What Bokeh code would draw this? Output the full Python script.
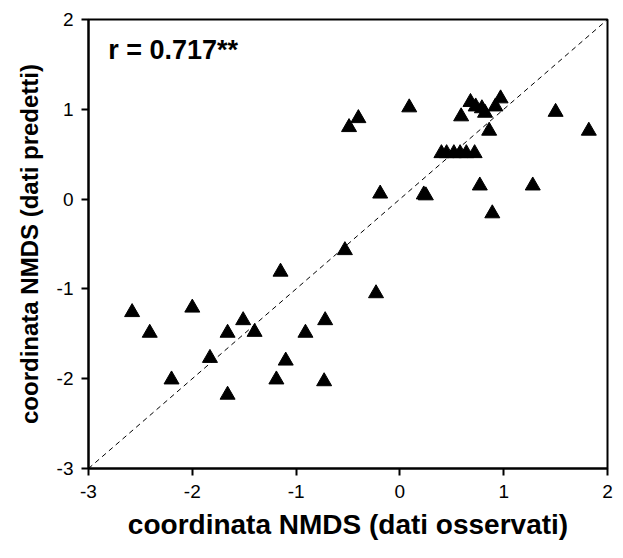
from bokeh.plotting import figure
from bokeh.models import ColumnDataSource, FixedTicker, Range1d, Title
from bokeh.core.properties import value
from bokeh.embed import file_html
from bokeh.resources import INLINE

obs = [-2.58, -2.41, -2.20, -2.00, -1.83, -1.66, -1.66, -1.51, -1.40, -1.15,
       -1.19, -1.10, -0.91, -0.72, -0.73, -0.53, -0.49, -0.40, -0.23, -0.19,
       0.09, 0.23, 0.25, 0.40, 0.45, 0.52, 0.58, 0.64, 0.72,
       0.59, 0.68, 0.73, 0.79, 0.82, 0.92, 0.97, 0.86, 0.77, 0.89, 1.28, 1.50, 1.82]
pred = [-1.26, -1.49, -2.01, -1.21, -1.77, -1.49, -2.18, -1.35, -1.48, -0.81,
        -2.01, -1.80, -1.49, -1.35, -2.03, -0.57, 0.80, 0.90, -1.05, 0.06,
        1.02, 0.05, 0.04, 0.51, 0.51, 0.51, 0.51, 0.51, 0.51,
        0.92, 1.08, 1.03, 1.01, 0.96, 1.03, 1.12, 0.76, 0.15, -0.16, 0.15, 0.97, 0.76]
ticks = [-3, -2, -1, 0, 1, 2]
tick_labels = ["-3", "-2", "-1", "0", "1", "2"]
diag = [-3, 2]
label = "r = 0.717**"
x_title = "coordinata NMDS (dati osservati)"
y_title = "coordinata NMDS (dati predetti)"

FONT = "Liberation Sans"

p = figure(width=615, height=550, output_backend="svg", toolbar_location=None,
           x_range=Range1d(-3, 2), y_range=Range1d(-3, 2),
           min_border_left=88, min_border_right=8, min_border_top=19, min_border_bottom=82)
p.background_fill_color = "white"
p.border_fill_color = "white"
p.outline_line_color = "black"
p.outline_line_width = 2
p.grid.visible = False

p.line(diag, diag, line_color="black", line_width=1, line_dash="5 4")
src = ColumnDataSource(dict(x=obs, y=pred))
p.scatter("x", "y", source=src, marker="triangle", size=15, fill_color="black", line_color="black")

p.text(x=[-2.81], y=[1.66], text=[label], text_font=value(FONT), text_font_style="bold",
       text_font_size="27px", text_baseline="middle", text_align="left", text_color="black")

for ax in (p.xaxis[0], p.yaxis[0]):
    ax.ticker = FixedTicker(ticks=ticks)
    ax.major_label_overrides = {t: s for t, s in zip(ticks, tick_labels)}
    ax.minor_tick_line_color = None
    ax.major_tick_in = 0
    ax.major_tick_out = 7
    ax.major_tick_line_width = 2
    ax.axis_line_width = 2
    ax.major_label_text_font = FONT
    ax.major_label_text_font_size = "19px"
    ax.major_label_text_color = "black"
    ax.axis_label_text_font = FONT
    ax.axis_label_text_font_style = "bold"
    ax.axis_label_text_color = "black"

p.add_layout(Title(text=x_title, align="center", offset=28, standoff=12,
                   text_font=FONT, text_font_style="bold", text_font_size="28px",
                   text_color="black"), "below")
p.yaxis.axis_label = y_title
p.yaxis.axis_label_text_font_size = "24px"
p.xaxis.major_label_standoff = 9
p.yaxis.major_label_standoff = 8
p.yaxis.axis_label_standoff = 11

open("out.html", "w").write(file_html(p, INLINE))
